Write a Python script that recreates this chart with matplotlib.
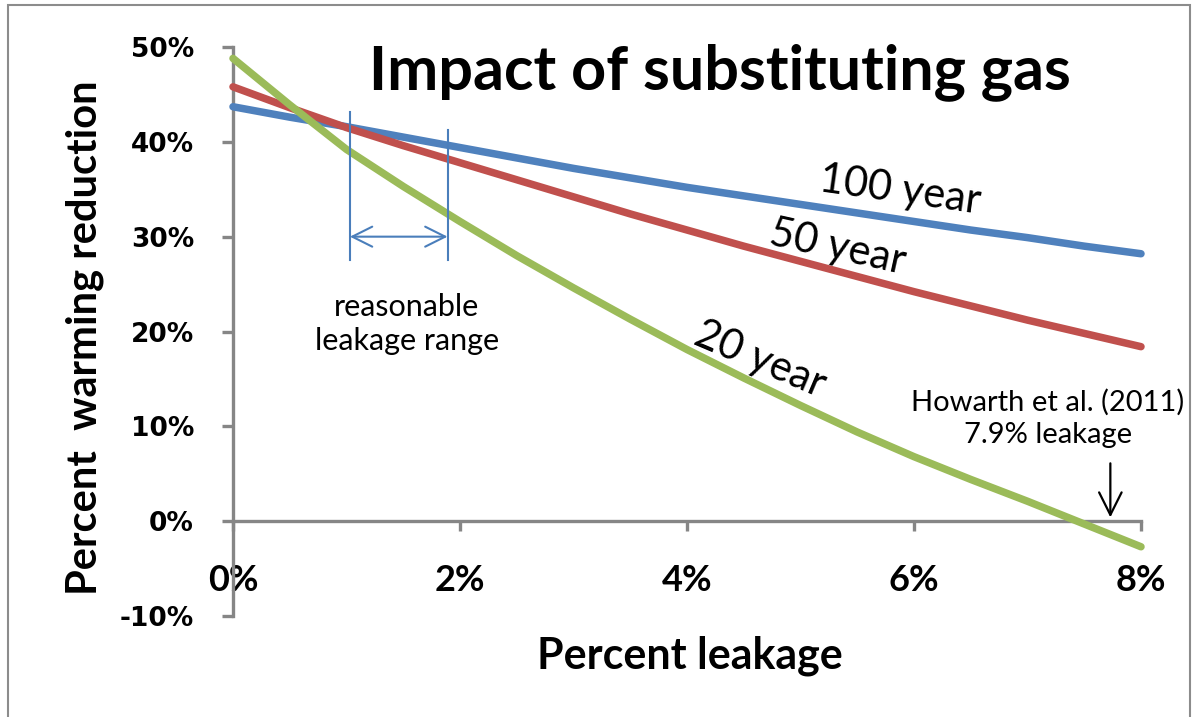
import numpy as np
import matplotlib
matplotlib.use("Agg")
import matplotlib.pyplot as plt
from matplotlib.patches import Rectangle

# leakage (%) and warming reduction (%)
leakage = [0, 0.5, 1, 1.5, 2, 2.5, 3, 3.5, 4, 4.5, 5, 5.5, 6, 6.5, 7, 7.5, 8]
year100 = [43.7, 42.6, 41.6, 40.5, 39.4, 38.3, 37.2, 36.2, 35.2, 34.3, 33.4, 32.5, 31.6, 30.7, 29.9, 29.0, 28.2]
year50 = [45.8, 43.6, 41.5, 39.6, 37.8, 36.0, 34.2, 32.4, 30.7, 29.0, 27.4, 25.8, 24.2, 22.7, 21.2, 19.8, 18.4]
year20 = [48.8, 43.9, 39.2, 35.3, 31.6, 28.0, 24.6, 21.3, 18.1, 15.1, 12.2, 9.4, 6.8, 4.4, 2.1, -0.3, -2.7]

x_ticks = [0, 2, 4, 6, 8]
y_ticks = [-10, 0, 10, 20, 30, 40, 50]

BLUE = "#4F81BD"
RED = "#C0504D"
GREEN = "#9BBB59"
AXIS = "#868686"
FONT = "Lato"

fig = plt.figure(figsize=(11.96, 7.17), dpi=100)
fig.patches.append(Rectangle((8 / 1196, -0.01), 1182 / 1196, 1 - 5 / 717 + 0.01,
                             transform=fig.transFigure, fill=False,
                             edgecolor="#8c8c8c", lw=1.5))

ax = fig.add_axes([233 / 1196, 1 - 616 / 717, 908 / 1196, 569 / 717])

for ys, c, z in [(year100, BLUE, 3), (year50, RED, 3), (year20, GREEN, 4)]:
    ax.plot(leakage, ys, color=c, lw=5.4, solid_capstyle="round", solid_joinstyle="round",
            clip_on=False, zorder=z)

ax.set_xlim(0, 8)
ax.set_ylim(-10, 50)

for s in ["top", "right"]:
    ax.spines[s].set_visible(False)
ax.spines["bottom"].set_position(("data", 0))
for s in ["left", "bottom"]:
    ax.spines[s].set_color(AXIS)
    ax.spines[s].set_linewidth(2.4)

ax.set_xticks(x_ticks)
ax.set_xticklabels([f"{v}%" for v in x_ticks], fontfamily=FONT, fontweight="bold", fontsize=26)
ax.set_yticks(y_ticks)
ax.set_yticklabels([f"{v}%" for v in y_ticks], fontfamily="DejaVu Sans", fontweight="bold", fontsize=19)
ax.tick_params(axis="x", direction="out", length=7, width=2.4, color=AXIS, pad=24)
ax.tick_params(axis="y", direction="out", length=8, width=2.4, color=AXIS, pad=20)

ax.set_xlabel("Percent leakage", fontfamily=FONT, fontweight="bold", fontsize=31)
ax.xaxis.set_label_coords(0.503, -0.069)
ax.xaxis.label.set_va("center")
ax.set_ylabel("Percent  warming reduction", fontfamily=FONT, fontweight="bold", fontsize=30)
ax.yaxis.set_label_coords(-0.163, 0.489)
ax.yaxis.label.set_va("center")

ax.text(0.536, 0.956, "Impact of substituting gas", transform=ax.transAxes,
        ha="center", va="center", fontfamily=FONT, fontweight="bold", fontsize=44)

# curve labels
ax.text(5.88, 34.9, "100 year", rotation=-8, ha="center", va="center", fontfamily=FONT, fontsize=30)
ax.text(5.33, 28.9, "50 year", rotation=-12.5, ha="center", va="center", fontfamily=FONT, fontsize=30)
ax.text(4.64, 17.0, "20 year", rotation=-23, ha="center", va="center", fontfamily=FONT, fontsize=30)

# reasonable leakage range marker
ax.plot([1.03, 1.03], [27.5, 43.1], color="#4A7EBB", lw=1.5, zorder=5)
ax.plot([1.89, 1.89], [27.5, 41.2], color="#4A7EBB", lw=1.5, zorder=5)
ax.annotate("", xy=(1.89, 30.0), xytext=(1.03, 30.0),
            arrowprops=dict(arrowstyle="<->,head_length=0.8,head_width=0.4", color="#4A7EBB", lw=1.5,
                            mutation_scale=18, shrinkA=0, shrinkB=0))
ax.text(1.53, 20.8, "reasonable\nleakage range", ha="center", va="center",
        fontfamily=FONT, fontsize=22, linespacing=1.25)

# Howarth marker
ax.text(7.18, 10.8, "Howarth et al. (2011)\n7.9% leakage", ha="center", va="center",
        fontfamily=FONT, fontsize=21, linespacing=1.3)
ax.annotate("", xy=(7.73, 0.4), xytext=(7.73, 6.1),
            arrowprops=dict(arrowstyle="->,head_length=0.9,head_width=0.45", color="black", lw=1.6,
                            mutation_scale=18, shrinkA=0, shrinkB=0))

fig.savefig("out.png", dpi=100)
